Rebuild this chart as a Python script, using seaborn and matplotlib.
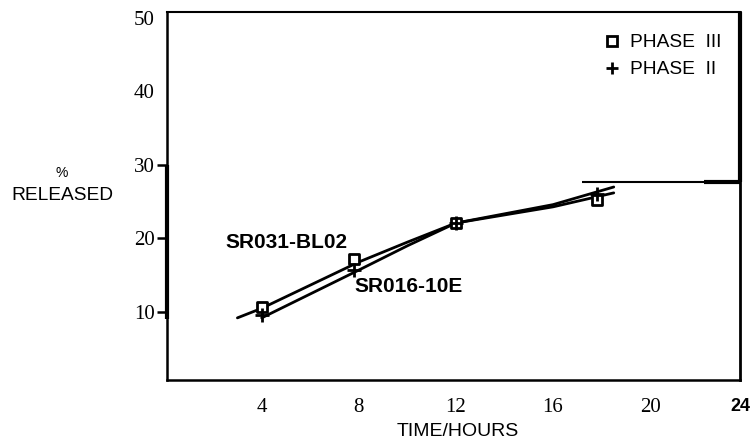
import matplotlib
matplotlib.use("Agg")
import matplotlib.pyplot as plt
from matplotlib.lines import Line2D
import seaborn as sns
import pandas as pd

# Measured release points (hours, % released)
hours = [4, 7.8, 12, 17.8]
phase3_pct = [10.7, 17.2, 22.1, 25.2]
phase2_pct = [9.6, 15.7, 22.1, 26.0]

# Hand-fitted release curves through each formulation
curve3_hours = [3.0, 4, 8, 10, 12, 16, 18.5]
curve3_pct = [9.2, 10.5, 16.8, 19.5, 22.1, 24.6, 27.0]
curve2_hours = [4.0, 8, 10, 12, 16, 18.5]
curve2_pct = [9.2, 15.7, 19.0, 22.1, 24.3, 26.2]

# Plateau reference level
plateau_pct = 27.7
plateau_start = 17.2

x_ticks = [4, 8, 12, 16, 20]
x_tick_labels = ["4", "8", "12", "16", "20", "24"]
y_ticks = [10, 20, 30, 40, 50]
y_tick_labels = ["10", "20", "30", "40", "50"]

X_MIN, X_MAX = 0.1, 23.7
Y_MIN, Y_MAX = 0.75, 50.8

sns.set_theme(style="white")
plt.rcParams["font.family"] = ["Liberation Sans", "DejaVu Sans"]
plt.rcParams["text.color"] = "black"
plt.rcParams["axes.labelcolor"] = "black"
plt.rcParams["xtick.color"] = "black"
plt.rcParams["ytick.color"] = "black"

fig = plt.figure(figsize=(7.54, 4.42), dpi=100)
ax = fig.add_axes([167 / 754, 1 - 380 / 442, 573 / 754, 368 / 442])

c3 = pd.DataFrame({"hours": curve3_hours, "pct": curve3_pct})
c2 = pd.DataFrame({"hours": curve2_hours, "pct": curve2_pct})
sns.lineplot(data=c3, x="hours", y="pct", ax=ax, color="black", lw=2.0,
             sort=False, estimator=None)
sns.lineplot(data=c2, x="hours", y="pct", ax=ax, color="black", lw=2.0,
             sort=False, estimator=None)

p3 = pd.DataFrame({"hours": hours, "pct": phase3_pct})
p2 = pd.DataFrame({"hours": hours, "pct": phase2_pct})
sns.scatterplot(data=p3, x="hours", y="pct", ax=ax, marker="s", s=60,
                facecolor="white", edgecolor="black", linewidth=2.0, zorder=5)
sns.scatterplot(data=p2, x="hours", y="pct", ax=ax, marker="+", s=90,
                color="black", linewidth=2.0, zorder=6)

# plateau line
ax.hlines(plateau_pct, plateau_start, X_MAX, color="black", lw=1.5)
ax.hlines(plateau_pct, X_MAX - 1.5, X_MAX, color="black", lw=3.0)

ax.set_xlim(X_MIN, X_MAX)
ax.set_ylim(Y_MIN, Y_MAX)

ax.set_xticks(x_ticks + [X_MAX])
ax.set_xticklabels(x_tick_labels, family="Liberation Serif", fontsize=15,
                   color="black")
lab24 = ax.get_xticklabels()[-1]
lab24.set_fontfamily("Liberation Sans")
lab24.set_fontweight("bold")
lab24.set_fontsize(13)
ax.tick_params(axis="x", length=0, pad=13)

ax.set_yticks(y_ticks)
ax.set_yticklabels(y_tick_labels, family="Liberation Serif", fontsize=15,
                   color="black")
ax.tick_params(axis="y", length=7, width=1.8, pad=2, color="black",
               left=True)
for t in ax.yaxis.get_major_ticks()[3:]:
    t.tick1line.set_visible(False)

ax.set_xlabel("")
ax.set_ylabel("")

for side in ["left", "right", "top", "bottom"]:
    ax.spines[side].set_visible(True)
    ax.spines[side].set_color("black")
ax.spines["left"].set_linewidth(1.8)
ax.spines["bottom"].set_linewidth(1.8)
ax.spines["top"].set_linewidth(1.5)
ax.spines["right"].set_linewidth(2.0)

# heavier stroke on the lower left axis and upper right frame
ax.plot([X_MIN, X_MIN], [9.0, 30], color="black", lw=3.0, clip_on=False,
        solid_capstyle="butt")
ax.plot([X_MAX, X_MAX], [plateau_pct, Y_MAX], color="black", lw=3.0,
        clip_on=False, solid_capstyle="butt")

# formulation labels
ax.text(2.49, 19.5, "SR031-BL02", fontsize=15, fontweight="bold",
        ha="left", va="center")
ax.text(7.8, 13.5, "SR016-10E", fontsize=15, fontweight="bold",
        ha="left", va="center")

handles = [
    Line2D([], [], marker="s", ls="none", color="black", mfc="white",
           mew=2.0, ms=7),
    Line2D([], [], marker="+", ls="none", color="black", mew=2.0, ms=9),
]
ax.legend(handles, ["PHASE  III", "PHASE  II"], loc="upper left",
          bbox_to_anchor=(0.762, 0.94), frameon=False, fontsize=13.8,
          handlelength=0.9, handletextpad=0.5, labelspacing=0.5,
          borderpad=0, borderaxespad=0)

fig.text(62 / 754, 1 - 173 / 442, "%", fontsize=10, ha="center",
         va="center")
fig.text(62 / 754, 1 - 195 / 442, "RELEASED", fontsize=13.8, ha="center",
         va="center")
fig.text(458 / 754, 1.5 / 442, "TIME/HOURS", fontsize=14, ha="center",
         va="bottom")

fig.savefig("out.png", dpi=100, facecolor="white")
